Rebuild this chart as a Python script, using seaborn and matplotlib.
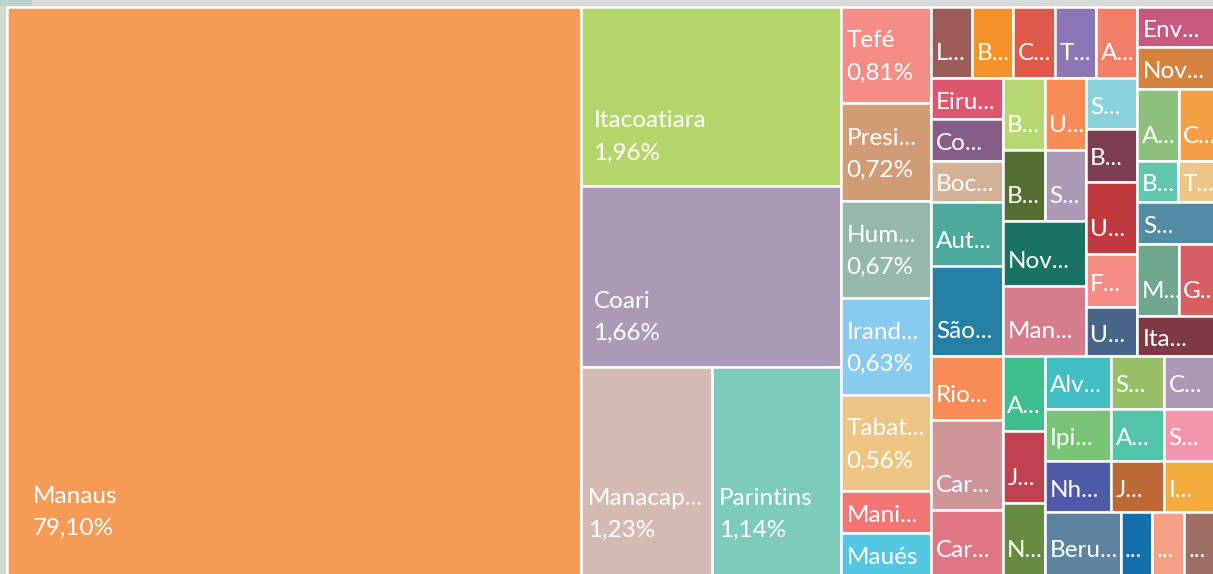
import numpy as np
import matplotlib
matplotlib.use("Agg")
import matplotlib.pyplot as plt
from matplotlib.patches import Rectangle
import seaborn as sns

# ---------------- data ----------------
municipios = [
    "Manaus", "Itacoatiara", "Coari", "Manacap...", "Parintins",
    "Tefé", "Presi...", "Hum...", "Irand...", "Tabat...", "Mani...", "Maués",
    "L...", "B...", "C...", "T...", "A...",
    "Eiru...", "Co...", "Boc...", "Aut...", "São...",
    "B...", "U...", "B...", "S...", "Nov...", "Man...",
    "S...", "B...", "U...", "F...", "U...",
    "Env...", "Nov...", "A...", "C...", "B...", "T...", "S...", "M...", "G...", "Ita...",
    "Rio...", "Car...", "Car...",
    "A...", "J...", "N...",
    "Alv...", "S...", "C...", "Ipi...", "A...", "S...", "Nh...", "J...", "I...",
    "Beru...", "...", "...", "...",
]
participacao = ["79,10%", "1,96%", "1,66%", "1,23%", "1,14%",
                "0,81%", "0,72%", "0,67%", "0,63%", "0,56%"] + [None] * 52

valores = [
    3264.9, 468.0, 469.3, 273.3, 268.3,
    87.8, 88.3, 88.3, 87.7, 87.6, 38.1, 38.1,
    29.4, 29.3, 29.4, 29.6, 29.3,
    29.7, 29.5, 29.2, 45.9, 64.7,
    30.4, 29.5, 29.9, 29.1, 53.2, 58.3,
    26.5, 27.1, 37.5, 27.3, 25.4,
    36.4, 36.6, 29.7, 34.1, 17.3, 19.9, 36.9, 29.9, 34.3, 35.5,
    45.8, 64.1, 46.7,
    31.5, 30.1, 30.4,
    34.8, 27.8, 32.6, 34.5, 27.6, 32.3, 34.3, 27.4, 32.1,
    47.7, 20.0, 19.8, 26.4,
]

# nesting of the treemap (group each municipality belongs to)
hierarquia = [
    "", "b", "b", "b.b", "b.b",
    "c", "c", "c", "c", "c", "c", "c",
    "d.t.l.a", "d.t.l.a", "d.t.l.a", "d.t.l.a", "d.t.l.a",
    "d.t.l.b.e", "d.t.l.b.e", "d.t.l.b.e", "d.t.l.b.e", "d.t.l.b.e",
    "d.t.l.b.u.1", "d.t.l.b.u.1", "d.t.l.b.u.2", "d.t.l.b.u.2", "d.t.l.b.u", "d.t.l.b.u",
    "d.t.l.b.s", "d.t.l.b.s", "d.t.l.b.s", "d.t.l.b.s", "d.t.l.b.s",
    "d.t.r", "d.t.r", "d.t.r.1", "d.t.r.1", "d.t.r.2", "d.t.r.2", "d.t.r",
    "d.t.r.3", "d.t.r.3", "d.t.r",
    "d.b.1", "d.b.1", "d.b.1",
    "d.b.2", "d.b.2", "d.b.2",
    "d.b.3.1", "d.b.3.1", "d.b.3.1", "d.b.3.2", "d.b.3.2", "d.b.3.2",
    "d.b.3.3", "d.b.3.3", "d.b.3.3",
    "d.b.3.4", "d.b.3.4", "d.b.3.4", "d.b.3.4",
]

cores = [
    "#F59B56", "#B3D56A", "#AB9AB6", "#D5BAB3", "#7CCBBB",
    "#F48D85", "#D19C74", "#96B8AB", "#88CBEF", "#ECC585", "#F27574", "#52C6E3",
    "#9C5D5A", "#F5922A", "#DF594B", "#8D76B5", "#F47D67",
    "#DE556F", "#855D88", "#D3B197", "#4DA99C", "#237FA3",
    "#B5D873", "#F98B56", "#546E32", "#AC9AB7", "#1A7264", "#D57C8C",
    "#89D2DB", "#7C3D50", "#C0393F", "#F58D83", "#476689",
    "#C75980", "#D6823F", "#8CC07B", "#F59E43", "#62C5AE", "#EDC586", "#528BA4",
    "#6EA690", "#D75E63", "#7E3945",
    "#F98B56", "#CE959B", "#E07684",
    "#3DBE8C", "#C1404F", "#668B3E",
    "#41BFC0", "#97BF6A", "#AC98B5", "#77C474", "#53C3A9", "#F495AE",
    "#4E5AA8", "#BE6836", "#F2AC3E",
    "#5C83A0", "#1370AA", "#F59F84", "#9E6D63",
]

# ---------------- style ----------------
sns.set_theme(style="white")
plt.rcParams["font.family"] = ["Lato", "DejaVu Sans"]

W, H = 1213, 574
fig = plt.figure(figsize=(W / 100, H / 100), dpi=100, facecolor="#d9d9d9")
ax = fig.add_axes([0, 0, 1, 1])
ax.set_xlim(0, W)
ax.set_ylim(H, 0)
ax.axis("off")

# faint page background strips
ax.add_patch(Rectangle((0, 6), 6, H, facecolor="#d2dbcf", edgecolor="none", zorder=0))
ax.add_patch(Rectangle((0, 0), 32, 6, facecolor="#bcd2cc", edgecolor="none", zorder=0))

# treemap canvas (the picture is a crop of it at right/bottom)
CANVAS = (6.5, 6.5, 1226.0, 575.3)


def layout(idx, prefix, depth, x0, y0, x1, y1, out):
    """Slice-and-dice: even depth splits along x, odd depth along y."""
    items = []
    for i in idx:
        p = hierarquia[i]
        if p == prefix:
            items.append((None, [i]))
        else:
            rest = p[len(prefix) + 1:] if prefix else p
            key = rest.split(".")[0]
            if items and items[-1][0] == key:
                items[-1][1].append(i)
            else:
                items.append((key, [i]))
    total = sum(valores[i] for i in idx)
    pos = x0 if depth % 2 == 0 else y0
    for key, members in items:
        s = sum(valores[i] for i in members)
        if depth % 2 == 0:
            r = (pos, y0, pos + (x1 - x0) * s / total, y1)
            pos = r[2]
        else:
            r = (x0, pos, x1, pos + (y1 - y0) * s / total)
            pos = r[3]
        if key is None:
            out[members[0]] = r
        else:
            layout(members, key if not prefix else prefix + "." + key,
                   depth + 1, *r, out)


rects = {}
layout(list(range(len(valores))), "", 0, *CANVAS, rects)

FS = 17.5
for i, (x0, y0, x1, y1) in rects.items():
    w, h = x1 - x0, y1 - y0
    ax.add_patch(Rectangle((x0, y0), w, h, facecolor=cores[i],
                           edgecolor="white", linewidth=1.8, zorder=2))
    padx = max(4.5, 0.042 * w + 2)
    tx = x0 + padx
    if participacao[i]:
        d = min(h / 2 - 24.5, float(np.clip(0.4 * h - 45, 24, 40)))
        yb = y1 - d
        ax.text(tx, yb, participacao[i], color="white", fontsize=FS,
                va="baseline", ha="left", zorder=3)
        ax.text(tx, yb - 32, municipios[i], color="white", fontsize=FS,
                va="baseline", ha="left", zorder=3)
    else:
        d = min(h / 2 - 10, 18)
        ax.text(tx, y1 - d, municipios[i], color="white", fontsize=FS,
                va="baseline", ha="left", zorder=3)

fig.savefig("out.png", dpi=100, facecolor=fig.get_facecolor())
